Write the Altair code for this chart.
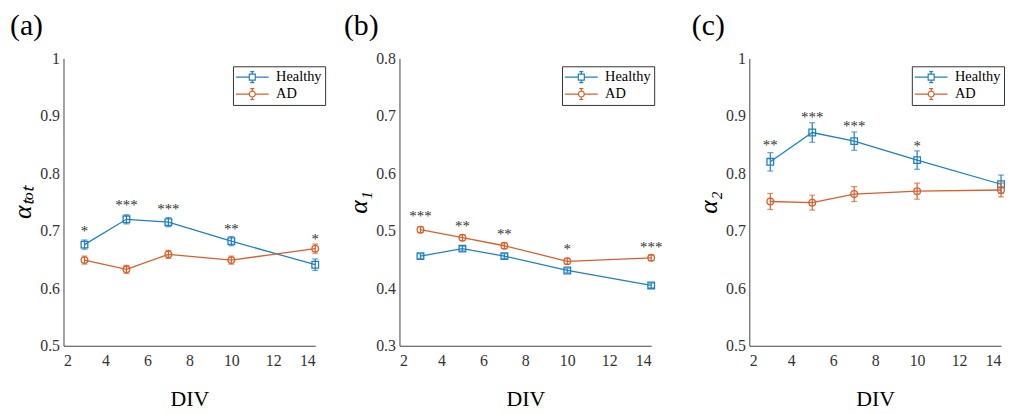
import altair as alt
import pandas as pd

# ---------------- data ----------------
div = [3, 5, 7, 10, 14]
series_names = ["Healthy", "AD"]

# (a) alpha_tot
a_healthy = [0.676, 0.720, 0.715, 0.682, 0.641]
a_healthy_err = [0.008, 0.008, 0.008, 0.008, 0.010]
a_ad = [0.649, 0.633, 0.659, 0.649, 0.669]
a_ad_err = [0.007, 0.007, 0.007, 0.007, 0.008]
a_stars = ["*", "***", "***", "**", "*"]
a_star_x = [3, 5, 7, 10, 14]
a_star_y = [0.703, 0.748, 0.742, 0.707, 0.689]

# (b) alpha_1
b_healthy = [0.456, 0.469, 0.456, 0.431, 0.405]
b_healthy_err = [0.004, 0.004, 0.004, 0.004, 0.004]
b_ad = [0.502, 0.488, 0.474, 0.447, 0.453]
b_ad_err = [0.005, 0.005, 0.005, 0.005, 0.005]
b_stars = ["***", "**", "**", "*", "***"]
b_star_x = [3, 5, 7, 10, 14]
b_star_y = [0.530, 0.511, 0.498, 0.472, 0.476]

# (c) alpha_2
c_healthy = [0.820, 0.871, 0.856, 0.823, 0.781]
c_healthy_err = [0.016, 0.017, 0.016, 0.016, 0.016]
c_ad = [0.751, 0.749, 0.764, 0.769, 0.771]
c_ad_err = [0.014, 0.013, 0.013, 0.014, 0.012]
c_stars = ["**", "***", "***", "*"]
c_star_x = [3, 5, 7, 10]
c_star_y = [0.852, 0.901, 0.885, 0.851]

x_ticks = [2, 4, 6, 8, 10, 12, 14]

BLUE = "#1F80C2"
ORANGE = "#D9602B"
FONT = "Liberation Serif"
SERIES_COLOR = {"Healthy": BLUE, "AD": ORANGE}
SERIES_SHAPE = {"Healthy": "square", "AD": "circle"}

# legend glyphs: line + marker + error bar (unit = 7 px)
SQ = ("M-2.36,0H-0.43M0.43,0H2.36M-0.43,-0.43H0.43V0.43H-0.43Z"
      "M0,-0.43V-0.79M0,0.43V0.79M-0.29,-0.79H0.29M-0.29,0.79H0.29")
CI = ("M-2.36,0H-0.43M0.43,0H2.36M0.43,0A0.43,0.43 0 1,1 -0.43,0A0.43,0.43 0 1,1 0.43,0"
      "M0,-0.43V-0.79M0,0.43V0.79M-0.29,-0.79H0.29M-0.29,0.79H0.29")


def make_legend(lx):
    return alt.Legend(
        title=None, orient="none", legendX=lx, legendY=8,
        fillColor="white", strokeColor="#333333", padding=3, rowPadding=1,
        labelFont=FONT, labelFontSize=14.5, labelColor="black",
        symbolSize=196, symbolOffset=8.5, labelOffset=16,
        symbolStrokeWidth=1.2, symbolOpacity=1,
    )


def panel(label, label_dx, ytitle, ydom, yticks, legx, healthy, h_err, ad, ad_err,
          stars, star_x, star_y):
    rows = []
    for s, vals, errs in [("Healthy", healthy, h_err), ("AD", ad, ad_err)]:
        for d, v, e in zip(div, vals, errs):
            rows.append({"DIV": d, "val": v, "lo": v - e, "hi": v + e, "series": s})
    df = pd.DataFrame(rows)
    sdf = pd.DataFrame({"DIV": star_x, "y": star_y, "t": stars})

    xscale = alt.Scale(domain=[2, 14], nice=False, zero=False)
    yscale = alt.Scale(domain=ydom, nice=False, zero=False)
    xaxis = alt.Axis(values=x_ticks, title="DIV")
    yaxis = alt.Axis(values=yticks, format=".1~f", title=ytitle)

    def X():
        return alt.X("DIV:Q", scale=xscale, axis=xaxis)

    def Y(f):
        return alt.Y(f"{f}:Q", scale=yscale, axis=yaxis)

    base = alt.Chart(df)
    leg = make_legend(legx)
    leg_layer = base.mark_point(filled=False, opacity=0).encode(
        x=X(), y=Y("val"),
        color=alt.Color("series:N", scale=alt.Scale(domain=series_names, range=[BLUE, ORANGE]), legend=leg),
        shape=alt.Shape("series:N", scale=alt.Scale(domain=series_names, range=[SQ, CI]), legend=leg),
    )

    layers = [leg_layer]
    for s in series_names:
        col = SERIES_COLOR[s]
        sb = base.transform_filter(alt.datum.series == s)
        layers.append(sb.mark_line(strokeWidth=1.3, color=col).encode(x=X(), y=Y("val")))
        layers.append(sb.mark_rule(strokeWidth=1.2, color=col).encode(x=X(), y=Y("lo"), y2="hi:Q"))
        layers.append(sb.mark_tick(orient="horizontal", size=6, thickness=1.2, color=col).encode(
            x=X(), y=Y("lo")))
        layers.append(sb.mark_tick(orient="horizontal", size=6, thickness=1.2, color=col).encode(
            x=X(), y=Y("hi")))
        layers.append(sb.mark_point(shape=SERIES_SHAPE[s], filled=False, size=45, strokeWidth=1.3,
                                    opacity=1, color=col).encode(x=X(), y=Y("val")))
    layers.append(alt.Chart(sdf).mark_text(font=FONT, fontSize=15, color="#333333", dy=2).encode(
        x=X(), y=Y("y"), text="t:N"))

    return alt.layer(*layers).properties(
        width=254, height=290,
        title=alt.TitleParams(text=label, anchor="start", frame="group", dx=label_dx, offset=10,
                              fontSize=30, font=FONT, fontWeight="normal", color="black"),
    )


pa = panel("(a)", -54, "αₜₒₜ", [0.5, 1.0], [0.5, 0.6, 0.7, 0.8, 0.9, 1.0], 171,
           a_healthy, a_healthy_err, a_ad, a_ad_err, a_stars, a_star_x, a_star_y)
pb = panel("(b)", -56, "α₁", [0.3, 0.8], [0.3, 0.4, 0.5, 0.6, 0.7, 0.8], 164,
           b_healthy, b_healthy_err, b_ad, b_ad_err, b_stars, b_star_x, b_star_y)
pc = panel("(c)", -58, "α₂", [0.5, 1.0], [0.5, 0.6, 0.7, 0.8, 0.9, 1.0], 164,
           c_healthy, c_healthy_err, c_ad, c_ad_err, c_stars, c_star_x, c_star_y)

inner = alt.hconcat(pa, pb, spacing=85, bounds="flush").resolve_scale(
    color="independent", shape="independent", x="independent", y="independent").resolve_legend(
    color="independent", shape="independent")

chart = alt.hconcat(inner, pc, spacing=29).resolve_scale(
    color="independent", shape="independent", x="independent", y="independent").resolve_legend(
    color="independent", shape="independent").properties(
    padding={"left": 2, "top": 1, "right": -3, "bottom": 0}
).configure_view(stroke=None).configure_axis(
    grid=False, ticks=False, domainColor="#444444", domainWidth=1,
    labelFont=FONT, labelFontSize=16, labelColor="#333333", labelPadding=7,
    titleFont=FONT, titleColor="black", titleFontWeight="normal",
).configure_axisX(titleFontSize=22, titlePadding=20).configure_axisY(
    titleFontSize=26, titleFontStyle="italic", titlePadding=4, labelPadding=4)

chart.save("out.html", embed_options={"renderer": "svg", "actions": False})
